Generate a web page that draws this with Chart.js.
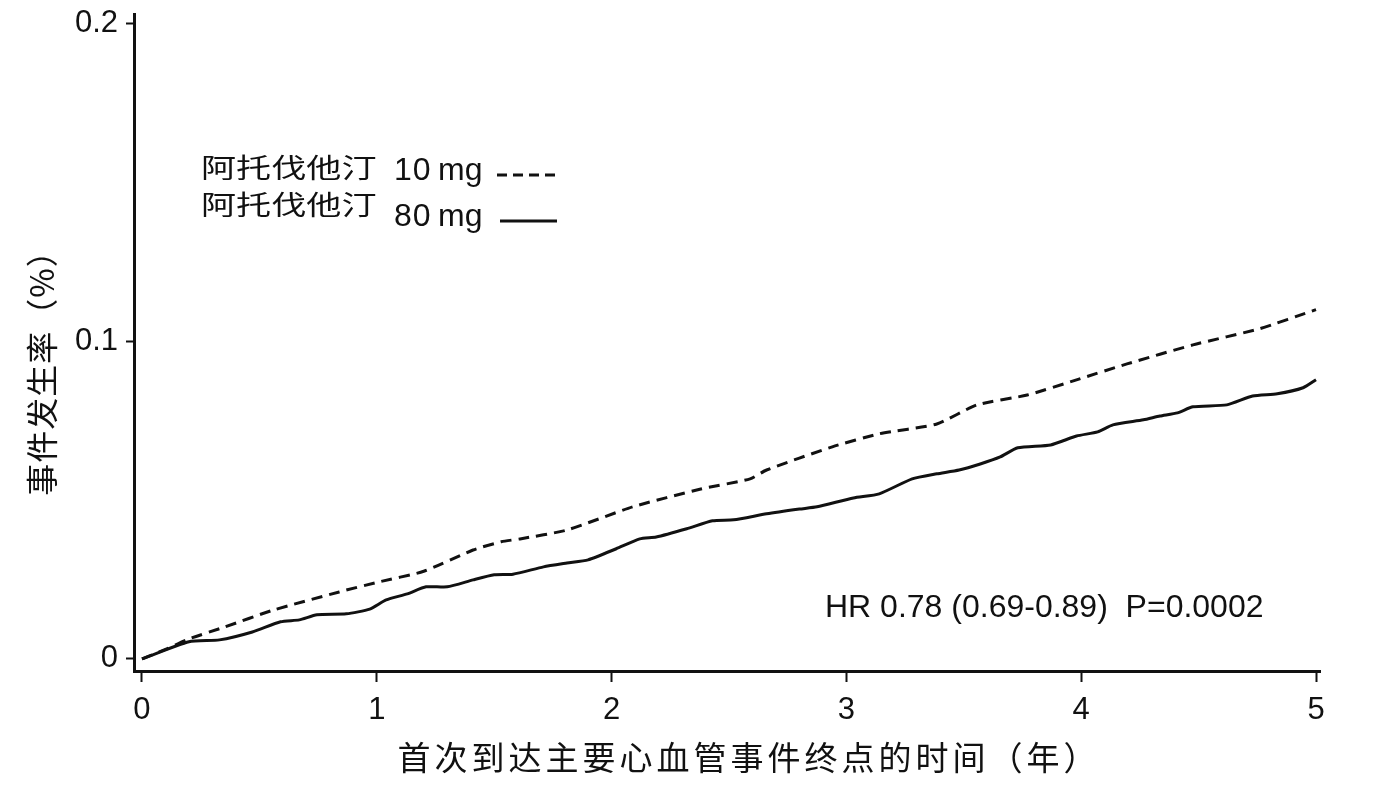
<!DOCTYPE html>
<html lang="zh-CN">
<head>
<meta charset="utf-8">
<title>事件发生率</title>
<script src="https://cdn.jsdelivr.net/npm/chart.js@4.4.1/dist/chart.umd.min.js"></script>
<style>
  html, body { margin: 0; padding: 0; background: #fff; }
  #wrap { width: 1399px; height: 804px; }
</style>
</head>
<body>
<div id="wrap"><canvas id="kmChart" width="1399" height="804"></canvas></div>
<script>
// ── Data ──
const xTicks = [0, 1, 2, 3, 4, 5];
const yTicks = [0, 0.1, 0.2];

const years10 = [0, 0.1, 0.2, 0.35, 0.56, 0.84, 1.0, 1.2, 1.41, 1.53, 1.61, 1.81, 2.09, 2.38, 2.59, 2.66, 2.94, 3.14, 3.385, 3.556, 3.77, 3.98, 4.195, 4.476, 4.76, 5.0];
const rate10 = [0, 0.003, 0.0063, 0.0100, 0.0154, 0.0211, 0.0241, 0.0276, 0.0343, 0.0369, 0.0378, 0.0406, 0.0479, 0.0535, 0.0567, 0.0595, 0.0668, 0.0709, 0.0740, 0.0800, 0.0831, 0.0879, 0.0929, 0.0989, 0.1040, 0.1100];

const years80 = [0, 0.2, 0.33, 0.47, 0.59, 0.67, 0.745, 0.87, 0.97, 1.04, 1.13, 1.21, 1.3, 1.41, 1.5, 1.58, 1.71, 1.81, 1.9, 2.02, 2.12, 2.19, 2.32, 2.43, 2.52, 2.66, 2.8, 2.875, 3.03, 3.14, 3.28, 3.385, 3.48, 3.57, 3.655, 3.73, 3.87, 3.98, 4.07, 4.135, 4.265, 4.335, 4.41, 4.476, 4.62, 4.73, 4.835, 4.945, 5.0];
const rate80 = [0, 0.0054, 0.0060, 0.0085, 0.0117, 0.0123, 0.0139, 0.0142, 0.0157, 0.0186, 0.0205, 0.0227, 0.0227, 0.0249, 0.0265, 0.0267, 0.0290, 0.0302, 0.0312, 0.0347, 0.0378, 0.0384, 0.0410, 0.0435, 0.0438, 0.0457, 0.0472, 0.0479, 0.0507, 0.0520, 0.0567, 0.0583, 0.0595, 0.0614, 0.0636, 0.0665, 0.0674, 0.0702, 0.0715, 0.0737, 0.0753, 0.0765, 0.0775, 0.0794, 0.0800, 0.0828, 0.0835, 0.0854, 0.0879];

const xTitle = '首次到达主要心血管事件终点的时间（年）';
const yTitle = '事件发生率（%）';
const drugName = '阿托伐他汀';
const doseLabels = ['10', '80'];
const hrText = 'HR 0.78 (0.69-0.89)  P=0.0002';

const LATIN = '"Liberation Sans", Arial, "Noto Sans CJK SC", sans-serif';
const CJK = '"Noto Sans CJK SC", "Liberation Sans", sans-serif';

// drug name in the legend is stretched sideways in the original
function wideText(ctx, text, x, y, sx) {
  ctx.save();
  ctx.translate(x, y);
  ctx.scale(sx, 1);
  ctx.fillText(text, 0, 0);
  ctx.restore();
}

// ── Annotations: axis titles, legend, HR text ──
const annotations = {
  id: 'annotations',
  afterDraw(chart) {
    const ctx = chart.ctx;
    ctx.save();
    ctx.fillStyle = '#111';

    // y title
    ctx.save();
    ctx.translate(42, 365);
    ctx.rotate(-Math.PI / 2);
    ctx.font = '32px ' + CJK;
    ctx.letterSpacing = '1px';
    ctx.textAlign = 'center';
    ctx.textBaseline = 'middle';
    ctx.fillText(yTitle, 0, 0);
    ctx.restore();

    // x title
    ctx.font = '33px ' + CJK;
    ctx.letterSpacing = '4px';
    ctx.textAlign = 'center';
    ctx.textBaseline = 'middle';
    ctx.fillText(xTitle, 749, 757);
    ctx.letterSpacing = '0px';

    // legend
    ctx.textAlign = 'left';
    ctx.textBaseline = 'alphabetic';
    const rows = [
      { y: 178, doseY: 180, dash: [10, 6], lineX: [497, 555], lineY: 175 },
      { y: 215, doseY: 226, dash: [], lineX: [500, 557], lineY: 221 }
    ];
    rows.forEach((r, i) => {
      ctx.font = '27px ' + CJK;
      wideText(ctx, drugName, 201, r.y, 1.3);
      ctx.font = '32px ' + LATIN;
      ctx.letterSpacing = '1px';
      ctx.fillText(doseLabels[i], 394, r.doseY);
      ctx.letterSpacing = '0px';
      ctx.fillText('mg', 438, r.doseY);
      ctx.beginPath();
      ctx.setLineDash(r.dash);
      ctx.lineWidth = 3;
      ctx.strokeStyle = '#111';
      ctx.moveTo(r.lineX[0], r.lineY);
      ctx.lineTo(r.lineX[1], r.lineY);
      ctx.stroke();
      ctx.setLineDash([]);
    });

    // HR text
    ctx.font = '32px ' + LATIN;
    ctx.textBaseline = 'middle';
    ctx.fillText(hrText, 825, 608);
    ctx.restore();
  }
};

// ── Kaplan-Meier style line chart ──
const kmCtx = document.getElementById('kmChart');
new Chart(kmCtx, {
  type: 'line',
  data: {
    datasets: [
      {
        label: drugName + ' 10mg',
        data: years10.map((t, i) => ({ x: t, y: rate10[i] })),
        borderColor: '#111',
        borderWidth: 3,
        borderDash: [11, 7],
        pointRadius: 0,
        tension: 0.2,
        fill: false
      },
      {
        label: drugName + ' 80mg',
        data: years80.map((t, i) => ({ x: t, y: rate80[i] })),
        borderColor: '#111',
        borderWidth: 3,
        pointRadius: 0,
        tension: 0.2,
        fill: false
      }
    ]
  },
  options: {
    responsive: false,
    animation: false,
    layout: { padding: { left: 0, right: 79, top: 14, bottom: 0 } },
    plugins: {
      legend: { display: false },
      tooltip: { enabled: false }
    },
    scales: {
      x: {
        type: 'linear',
        min: -0.034,
        max: 5.017,
        afterBuildTicks: s => { s.ticks = xTicks.map(v => ({ value: v })); },
        afterFit: s => { s.height = 133; s.paddingLeft = 0; s.paddingRight = 0; },
        border: { display: true, color: '#111', width: 3 },
        grid: { drawOnChartArea: false, drawTicks: true, tickLength: 11, tickWidth: 2, color: '#111' },
        ticks: {
          color: '#111',
          font: { family: LATIN, size: 31 },
          padding: 10,
          maxRotation: 0,
          autoSkip: false,
          callback: v => String(v)
        }
      },
      y: {
        type: 'linear',
        min: -0.0038,
        max: 0.2031,
        afterBuildTicks: s => { s.ticks = yTicks.map(v => ({ value: v })); },
        afterFit: s => { s.width = 134; s.paddingTop = 0; s.paddingBottom = 0; },
        border: { display: true, color: '#111', width: 3 },
        grid: { drawOnChartArea: false, drawTicks: true, tickLength: 8, tickWidth: 2, color: '#111' },
        ticks: {
          color: '#111',
          font: { family: LATIN, size: 31 },
          padding: 8,
          autoSkip: false,
          callback: v => String(v)
        }
      }
    }
  },
  plugins: [annotations]
});
</script>
</body>
</html>
